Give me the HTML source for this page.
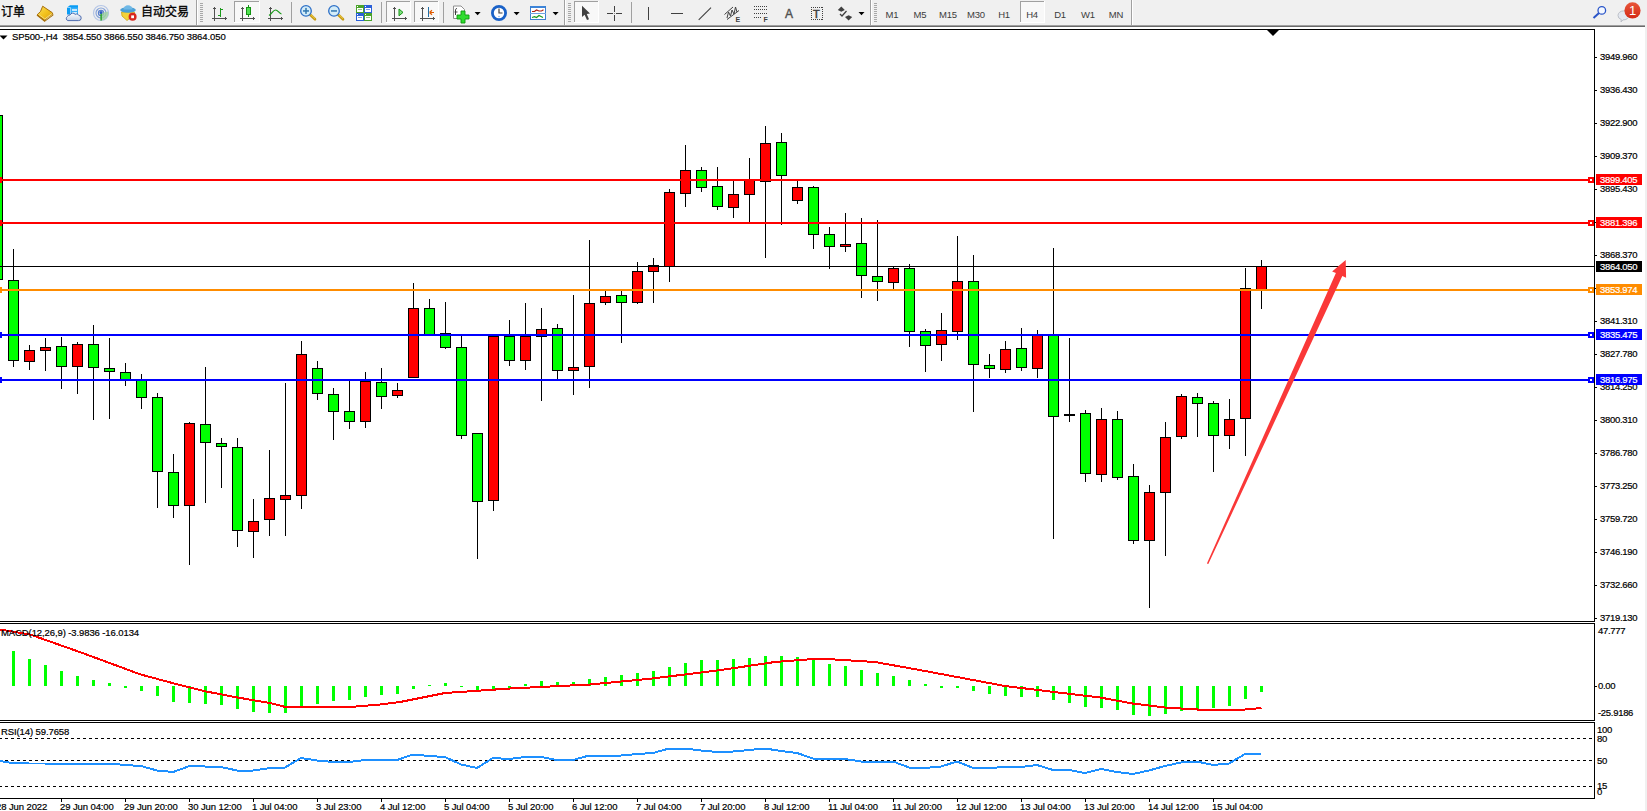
<!DOCTYPE html>
<html lang="zh"><head><meta charset="utf-8"><title>SP500-,H4</title>
<style>
html,body{margin:0;padding:0;background:#fff;}
body{width:1647px;height:811px;position:relative;overflow:hidden;font-family:"Liberation Sans","Noto Sans CJK SC",sans-serif;}
#tb{position:absolute;left:0;top:0;width:1647px;height:27px;background:#f0f0f0;}
#tb .l1{position:absolute;left:0;top:25px;width:1645px;height:1px;background:#a0a0a0;}
#tb .l2{position:absolute;left:0;top:26px;width:1645px;height:1px;background:#696969;}
#rt{position:absolute;left:1645px;top:25px;width:2px;height:786px;background:#f0f0f0;}
svg{position:absolute;left:0;top:0;}
.t{position:absolute;font-size:9.5px;line-height:12px;color:#000;white-space:nowrap;letter-spacing:-0.1px;-webkit-text-stroke:0.2px #000;}
.pb{position:absolute;left:1596px;width:46px;height:11px;font-size:9.5px;line-height:11px;color:#fff;white-space:nowrap;letter-spacing:-0.3px;text-indent:4px;-webkit-text-stroke:0.2px #fff;}
.a{letter-spacing:-0.3px;}
.cn{position:absolute;top:4px;font-size:12px;line-height:16px;color:#000;white-space:nowrap;-webkit-text-stroke:0.3px #000;}
.tf{position:absolute;top:8px;width:28px;text-align:center;font-size:9.5px;line-height:13px;color:#3c3c3c;letter-spacing:-0.2px;}
.ic{position:absolute;font-weight:bold;color:#404040;}
</style></head><body>
<div id="tb"><div class="l1"></div><div class="l2"></div></div>
<div id="rt"></div>
<svg width="1647" height="811" viewBox="0 0 1647 811" shape-rendering="crispEdges">
<defs><linearGradient id="gb" x1="0" y1="0" x2="1" y2="1"><stop offset="0" stop-color="#fbe060"/><stop offset="0.5" stop-color="#f2c21c"/><stop offset="1" stop-color="#d89a10"/></linearGradient><linearGradient id="cl" x1="0" y1="0" x2="0" y2="1"><stop offset="0" stop-color="#ffffff"/><stop offset="1" stop-color="#c4d0e6"/></linearGradient></defs>
<g shape-rendering="geometricPrecision"><polygon points="42.7,6.2 52.2,12.6 53,14.6 44.6,20.8 37.1,14.8 40.5,11.5" fill="url(#gb)" stroke="#a8700c" stroke-width="1" stroke-linejoin="round"/><polyline points="37.1,14.8 44.6,20.8 53,14.6" fill="none" stroke="#a8700c" stroke-width="1.7" stroke-linejoin="round"/><polyline points="38.3,14.2 44.8,19 51.8,13.6" fill="none" stroke="#f7dc78" stroke-width="1"/><polyline points="45.5,19.8 52.5,14.6" fill="none" stroke="#d8c890" stroke-width="0.8"/></g>
<g shape-rendering="geometricPrecision"><path d="M67 7.5 L70 5.3 L78 5.3 L78 14.5 L67 14.5Z" fill="#0a9cf5"/><path d="M70.5 7.5 L78 7.5 L78 14.5 L70.5 14.5Z" fill="#38b0f8"/><path d="M67 7.5 L70.5 7.5 L70.5 14.5" fill="none" stroke="#bfe4fc" stroke-width="0.7"/><rect x="72" y="9.2" width="5" height="1.6" fill="#e8f6ff"/><rect x="72" y="12" width="5" height="2.5" fill="#d0ecfd"/><path d="M67.8 20.6 h10.6 a2.6 2.6 0 0 0 0.4 -5.2 a2.4 2.4 0 0 0 -3.6 -1 a3 3 0 0 0 -5.2 0.6 a2.4 2.4 0 0 0 -2.6 1.6 a2.2 2.2 0 0 0 0.4 4z" fill="url(#cl)" stroke="#4060a8" stroke-width="0.9"/></g>
<g shape-rendering="geometricPrecision" fill="none"><circle cx="101" cy="13" r="7.5" stroke="#b5c6e6" stroke-width="1.2"/><circle cx="101" cy="13" r="5" stroke="#86a3d8" stroke-width="1.2"/><circle cx="101" cy="13" r="2.6" stroke="#5a80cc" stroke-width="1.2"/><path d="M101 13 L101 20.5 A7.5 7.5 0 0 0 108.3 11.5 Z" fill="#9fd29f" stroke="none" opacity="0.8"/><rect x="100.4" y="13" width="1.4" height="7.5" fill="#1fa01f"/><circle cx="101" cy="12.5" r="1.5" fill="#2a58c0" stroke="none"/></g>
<g shape-rendering="geometricPrecision"><path d="M121.5 12 L134.5 12 L134 15 L127 20.5 L122 16 Z" fill="#f4d23a" stroke="#c9a21a" stroke-width="0.8"/><ellipse cx="128" cy="10" rx="7.8" ry="2.8" fill="#4a9fd6"/><path d="M123.5 9.5 a4.5 4.2 0 0 1 9 0z" fill="#6fb8e6"/><circle cx="132.6" cy="16.8" r="4" fill="#d8281e"/><rect x="131.2" y="15.4" width="2.8" height="2.8" fill="#fff"/></g>
<rect x="196" y="0" width="1" height="25" fill="#a0a0a0"/><rect x="197" y="0" width="1" height="25" fill="#ffffff"/>
<rect x="200" y="3" width="3" height="1" fill="#a8a8a8"/>
<rect x="200" y="5" width="3" height="1" fill="#a8a8a8"/>
<rect x="200" y="7" width="3" height="1" fill="#a8a8a8"/>
<rect x="200" y="9" width="3" height="1" fill="#a8a8a8"/>
<rect x="200" y="11" width="3" height="1" fill="#a8a8a8"/>
<rect x="200" y="13" width="3" height="1" fill="#a8a8a8"/>
<rect x="200" y="15" width="3" height="1" fill="#a8a8a8"/>
<rect x="200" y="17" width="3" height="1" fill="#a8a8a8"/>
<rect x="200" y="19" width="3" height="1" fill="#a8a8a8"/>
<rect x="200" y="21" width="3" height="1" fill="#a8a8a8"/>
<g fill="#505050"><rect x="214" y="7" width="1" height="14"/><rect x="212" y="18" width="15" height="1"/><rect x="213" y="8" width="3" height="1"/><rect x="225" y="17" width="1" height="3"/></g>
<g fill="#1a9a1a"><rect x="220" y="8" width="1" height="9"/><rect x="221" y="9" width="2" height="1"/><rect x="218" y="15" width="2" height="1"/></g>
<rect x="234" y="1" width="26" height="22" fill="#f8f8f8"/><rect x="234" y="1" width="26" height="1" fill="#a0a0a0"/><rect x="234" y="1" width="1" height="22" fill="#a0a0a0"/><rect x="234" y="22" width="26" height="1" fill="#ffffff"/><rect x="259" y="1" width="1" height="22" fill="#ffffff"/>
<g fill="#505050"><rect x="242" y="7" width="1" height="14"/><rect x="240" y="18" width="15" height="1"/><rect x="241" y="8" width="3" height="1"/><rect x="253" y="17" width="1" height="3"/></g>
<rect x="248" y="5" width="1" height="12" fill="#149414"/><rect x="246.5" y="7.5" width="4" height="7" fill="#4fe04f" stroke="#149414" stroke-width="1" shape-rendering="geometricPrecision"/>
<g fill="#505050"><rect x="270" y="7" width="1" height="14"/><rect x="268" y="18" width="15" height="1"/><rect x="269" y="8" width="3" height="1"/><rect x="281" y="17" width="1" height="3"/></g>
<path d="M269 15.5 C272 14 273 10 275.5 10 C278 10 279 13.5 281.5 14" fill="none" stroke="#1a9a1a" stroke-width="1.2" shape-rendering="geometricPrecision"/>
<rect x="291" y="2" width="1" height="21" fill="#a0a0a0"/>
<g shape-rendering="geometricPrecision"><line x1="310" y1="14.5" x2="315" y2="19.3" stroke="#c79a12" stroke-width="2.6" stroke-linecap="round"/><line x1="310.5" y1="14.3" x2="315" y2="18.6" stroke="#f0d050" stroke-width="1"/><circle cx="306" cy="10.9" r="5.3" fill="#d3ecf8" stroke="#2c6fc7" stroke-width="1.3"/><rect x="303" y="10.2" width="6" height="1.5" fill="#2f76b0"/><rect x="305.25" y="7.9" width="1.5" height="6" fill="#2f76b0"/></g>
<g shape-rendering="geometricPrecision"><line x1="338" y1="14.5" x2="343" y2="19.3" stroke="#c79a12" stroke-width="2.6" stroke-linecap="round"/><line x1="338.5" y1="14.3" x2="343" y2="18.6" stroke="#f0d050" stroke-width="1"/><circle cx="334" cy="10.9" r="5.3" fill="#d3ecf8" stroke="#2c6fc7" stroke-width="1.3"/><rect x="331" y="10.2" width="6" height="1.5" fill="#2f76b0"/></g>
<rect x="356" y="5" width="8" height="8" fill="#4aa32a"/><rect x="357" y="8" width="6" height="4" fill="#fff"/><rect x="358" y="9" width="4" height="1" fill="#4aa32a" opacity="0.6"/><rect x="357" y="6" width="1" height="1" fill="#fff"/>
<rect x="364" y="5" width="8" height="8" fill="#2a5fd8"/><rect x="365" y="8" width="6" height="4" fill="#fff"/><rect x="366" y="9" width="4" height="1" fill="#2a5fd8" opacity="0.6"/><rect x="365" y="6" width="1" height="1" fill="#fff"/>
<rect x="356" y="13" width="8" height="8" fill="#2a5fd8"/><rect x="357" y="16" width="6" height="4" fill="#fff"/><rect x="358" y="17" width="4" height="1" fill="#2a5fd8" opacity="0.6"/><rect x="357" y="14" width="1" height="1" fill="#fff"/>
<rect x="364" y="13" width="8" height="8" fill="#4aa32a"/><rect x="365" y="16" width="6" height="4" fill="#fff"/><rect x="366" y="17" width="4" height="1" fill="#4aa32a" opacity="0.6"/><rect x="365" y="14" width="1" height="1" fill="#fff"/>
<rect x="381" y="2" width="1" height="21" fill="#a0a0a0"/>
<rect x="386" y="1" width="25" height="22" fill="#f8f8f8"/><rect x="386" y="1" width="25" height="1" fill="#a0a0a0"/><rect x="386" y="1" width="1" height="22" fill="#a0a0a0"/><rect x="386" y="22" width="25" height="1" fill="#ffffff"/><rect x="410" y="1" width="1" height="22" fill="#ffffff"/>
<g fill="#505050"><rect x="394" y="7" width="1" height="14"/><rect x="392" y="18" width="15" height="1"/><rect x="393" y="8" width="3" height="1"/><rect x="405" y="17" width="1" height="3"/></g>
<polygon points="399,9 403,12.4 399,15.8" fill="#7fe07f" stroke="#149414" stroke-width="1" shape-rendering="geometricPrecision"/>
<rect x="414" y="1" width="25" height="22" fill="#f8f8f8"/><rect x="414" y="1" width="25" height="1" fill="#a0a0a0"/><rect x="414" y="1" width="1" height="22" fill="#a0a0a0"/><rect x="414" y="22" width="25" height="1" fill="#ffffff"/><rect x="438" y="1" width="1" height="22" fill="#ffffff"/>
<g fill="#505050"><rect x="422" y="7" width="1" height="14"/><rect x="420" y="18" width="15" height="1"/><rect x="421" y="8" width="3" height="1"/><rect x="433" y="17" width="1" height="3"/></g>
<rect x="428" y="7" width="1" height="10" fill="#1f6fa8"/><path d="M429.5 12.5 L434 12.5 M429.5 12.5 l2.5 -2.3 M429.5 12.5 l2.5 2.3" stroke="#e05a00" stroke-width="1.2" fill="none" shape-rendering="geometricPrecision"/>
<rect x="443" y="2" width="1" height="21" fill="#a0a0a0"/>
<g shape-rendering="geometricPrecision"><path d="M453.5 6 h7.5 l3.5 3.5 v9 h-11z" fill="#fff" stroke="#909090" stroke-width="1"/><path d="M457 8.5 c-1.5 0 -1.5 1 -1.5 2.5 v4" stroke="#404040" stroke-width="1" fill="none"/><rect x="454.5" y="11.5" width="3" height="1" fill="#404040"/><path d="M461 11 h4 v4 h4 v4 h-4 v4 h-4 v-4 h-4 v-4 h4z" fill="#2edc2e" stroke="#0f960f" stroke-width="0.9"/></g>
<polygon points="474.6,12 480.6,12 477.6,15.2" fill="#000" shape-rendering="geometricPrecision"/>
<g shape-rendering="geometricPrecision"><circle cx="499" cy="13" r="6.6" fill="#fff" stroke="#1a62c8" stroke-width="2.8"/><path d="M499 8.5 V13 H502.5" stroke="#404040" stroke-width="1.2" fill="none"/><circle cx="499" cy="16.5" r="0.7" fill="#6aa0e8"/></g>
<polygon points="513.6,12 519.6,12 516.6,15.2" fill="#000" shape-rendering="geometricPrecision"/>
<rect x="530" y="6" width="16" height="14" fill="#fff" stroke="none"/><rect x="530" y="6" width="16" height="2" fill="#3d84d8"/><rect x="530" y="6" width="1" height="14" fill="#3d7fd0"/><rect x="545" y="6" width="1" height="14" fill="#3d7fd0"/><rect x="530" y="19" width="16" height="1" fill="#3d7fd0"/><rect x="530" y="13" width="16" height="1" fill="#6fa4e0"/>
<path d="M532 11.5 l2.5 0 l2 -1.5 l2.5 1 l2.5 0 l2 -1.2" stroke="#b02010" stroke-width="1.2" fill="none" shape-rendering="geometricPrecision"/><path d="M532 17.5 l2.5 -0.8 l2 0.8 l2.5 -2 l2 1 l2 1" stroke="#1a9a1a" stroke-width="1.2" fill="none" shape-rendering="geometricPrecision"/>
<polygon points="552.6,12 558.6,12 555.6,15.2" fill="#000" shape-rendering="geometricPrecision"/>
<rect x="564" y="0" width="1" height="25" fill="#a0a0a0"/><rect x="565" y="0" width="1" height="25" fill="#ffffff"/>
<rect x="568" y="3" width="3" height="1" fill="#a8a8a8"/>
<rect x="568" y="5" width="3" height="1" fill="#a8a8a8"/>
<rect x="568" y="7" width="3" height="1" fill="#a8a8a8"/>
<rect x="568" y="9" width="3" height="1" fill="#a8a8a8"/>
<rect x="568" y="11" width="3" height="1" fill="#a8a8a8"/>
<rect x="568" y="13" width="3" height="1" fill="#a8a8a8"/>
<rect x="568" y="15" width="3" height="1" fill="#a8a8a8"/>
<rect x="568" y="17" width="3" height="1" fill="#a8a8a8"/>
<rect x="568" y="19" width="3" height="1" fill="#a8a8a8"/>
<rect x="568" y="21" width="3" height="1" fill="#a8a8a8"/>
<rect x="574" y="1" width="25" height="22" fill="#f8f8f8"/><rect x="574" y="1" width="25" height="1" fill="#a0a0a0"/><rect x="574" y="1" width="1" height="22" fill="#a0a0a0"/><rect x="574" y="22" width="25" height="1" fill="#ffffff"/><rect x="598" y="1" width="1" height="22" fill="#ffffff"/>
<polygon points="582,5.8 582,17 584.6,14.8 587,20 589,19.2 586.8,14 590,13.6" fill="#404040" shape-rendering="geometricPrecision"/>
<g fill="#404040"><rect x="607" y="13" width="6" height="1"/><rect x="616" y="13" width="6" height="1"/><rect x="614" y="6" width="1" height="6"/><rect x="614" y="15" width="1" height="6"/><rect x="614" y="13" width="1" height="1" fill="#909090"/></g>
<rect x="631" y="2" width="1" height="21" fill="#a0a0a0"/>
<rect x="648" y="7" width="1" height="13" fill="#404040"/>
<rect x="671" y="13" width="12" height="1" fill="#404040"/>
<line x1="698.7" y1="19.8" x2="711" y2="7.6" stroke="#404040" stroke-width="1.1" shape-rendering="geometricPrecision"/>
<g shape-rendering="geometricPrecision" stroke="#404040" stroke-width="1" fill="none"><line x1="724.5" y1="14.5" x2="733" y2="7"/><line x1="727" y1="19.5" x2="739" y2="10.5"/><path d="M727 18 l1.5 -6 l2 4 l1.5 -6 l2 4 l1.5 -7 l1.5 5"/></g>
<rect x="754" y="6" width="1" height="1" fill="#404040"/>
<rect x="756" y="6" width="1" height="1" fill="#404040"/>
<rect x="758" y="6" width="1" height="1" fill="#404040"/>
<rect x="760" y="6" width="1" height="1" fill="#404040"/>
<rect x="762" y="6" width="1" height="1" fill="#404040"/>
<rect x="764" y="6" width="1" height="1" fill="#404040"/>
<rect x="766" y="6" width="1" height="1" fill="#404040"/>
<rect x="754" y="9" width="1" height="1" fill="#404040"/>
<rect x="756" y="9" width="1" height="1" fill="#404040"/>
<rect x="758" y="9" width="1" height="1" fill="#404040"/>
<rect x="760" y="9" width="1" height="1" fill="#404040"/>
<rect x="762" y="9" width="1" height="1" fill="#404040"/>
<rect x="764" y="9" width="1" height="1" fill="#404040"/>
<rect x="766" y="9" width="1" height="1" fill="#404040"/>
<rect x="754" y="13" width="1" height="1" fill="#404040"/>
<rect x="756" y="13" width="1" height="1" fill="#404040"/>
<rect x="758" y="13" width="1" height="1" fill="#404040"/>
<rect x="760" y="13" width="1" height="1" fill="#404040"/>
<rect x="762" y="13" width="1" height="1" fill="#404040"/>
<rect x="764" y="13" width="1" height="1" fill="#404040"/>
<rect x="766" y="13" width="1" height="1" fill="#404040"/>
<rect x="754" y="17" width="1" height="1" fill="#404040"/>
<rect x="756" y="17" width="1" height="1" fill="#404040"/>
<rect x="758" y="17" width="1" height="1" fill="#404040"/>
<rect x="760" y="17" width="1" height="1" fill="#404040"/>
<rect x="811" y="7" width="1" height="1" fill="#404040"/><rect x="811" y="19" width="1" height="1" fill="#404040"/>
<rect x="813" y="7" width="1" height="1" fill="#404040"/><rect x="813" y="19" width="1" height="1" fill="#404040"/>
<rect x="815" y="7" width="1" height="1" fill="#404040"/><rect x="815" y="19" width="1" height="1" fill="#404040"/>
<rect x="817" y="7" width="1" height="1" fill="#404040"/><rect x="817" y="19" width="1" height="1" fill="#404040"/>
<rect x="819" y="7" width="1" height="1" fill="#404040"/><rect x="819" y="19" width="1" height="1" fill="#404040"/>
<rect x="821" y="7" width="1" height="1" fill="#404040"/><rect x="821" y="19" width="1" height="1" fill="#404040"/>
<rect x="811" y="7" width="1" height="1" fill="#404040"/><rect x="822" y="7" width="1" height="1" fill="#404040"/>
<rect x="811" y="9" width="1" height="1" fill="#404040"/><rect x="822" y="9" width="1" height="1" fill="#404040"/>
<rect x="811" y="11" width="1" height="1" fill="#404040"/><rect x="822" y="11" width="1" height="1" fill="#404040"/>
<rect x="811" y="13" width="1" height="1" fill="#404040"/><rect x="822" y="13" width="1" height="1" fill="#404040"/>
<rect x="811" y="15" width="1" height="1" fill="#404040"/><rect x="822" y="15" width="1" height="1" fill="#404040"/>
<rect x="811" y="17" width="1" height="1" fill="#404040"/><rect x="822" y="17" width="1" height="1" fill="#404040"/>
<rect x="811" y="19" width="1" height="1" fill="#404040"/><rect x="822" y="19" width="1" height="1" fill="#404040"/>
<g shape-rendering="geometricPrecision" fill="#404040"><polygon points="841.3,6.5 844.8,10 841.3,11.8 837.8,10"/><polygon points="848.6,20.5 852.2,17 848.6,15.2 845,17"/><path d="M840 14 l2 2 l4.5 -5" stroke="#404040" stroke-width="1.3" fill="none"/></g>
<polygon points="858.5,12 864.5,12 861.5,15.2" fill="#000" shape-rendering="geometricPrecision"/>
<rect x="870" y="0" width="1" height="25" fill="#a0a0a0"/><rect x="871" y="0" width="1" height="25" fill="#ffffff"/>
<rect x="874" y="3" width="3" height="1" fill="#a8a8a8"/>
<rect x="874" y="5" width="3" height="1" fill="#a8a8a8"/>
<rect x="874" y="7" width="3" height="1" fill="#a8a8a8"/>
<rect x="874" y="9" width="3" height="1" fill="#a8a8a8"/>
<rect x="874" y="11" width="3" height="1" fill="#a8a8a8"/>
<rect x="874" y="13" width="3" height="1" fill="#a8a8a8"/>
<rect x="874" y="15" width="3" height="1" fill="#a8a8a8"/>
<rect x="874" y="17" width="3" height="1" fill="#a8a8a8"/>
<rect x="874" y="19" width="3" height="1" fill="#a8a8a8"/>
<rect x="874" y="21" width="3" height="1" fill="#a8a8a8"/>
<rect x="1020" y="1" width="25" height="22" fill="#f8f8f8"/><rect x="1020" y="1" width="25" height="1" fill="#a0a0a0"/><rect x="1020" y="1" width="1" height="22" fill="#a0a0a0"/><rect x="1020" y="22" width="25" height="1" fill="#ffffff"/><rect x="1044" y="1" width="1" height="22" fill="#ffffff"/>
<rect x="1131" y="0" width="1" height="25" fill="#a0a0a0"/><rect x="1132" y="0" width="1" height="25" fill="#ffffff"/>
<g shape-rendering="geometricPrecision"><line x1="1599" y1="13" x2="1593.5" y2="18" stroke="#2a55c8" stroke-width="2"/><circle cx="1601.8" cy="10.4" r="3.8" fill="#f4f8ff" stroke="#2a55c8" stroke-width="1.3"/></g>
<g shape-rendering="geometricPrecision"><path d="M1618 15.5 a5.5 4.5 0 1 1 5 4.4 l-2 2 l0.3 -2.3 a5.5 4.5 0 0 1 -3.3 -4.1z" fill="#e4e8f0" stroke="#b0b4bc" stroke-width="0.8"/><defs><linearGradient id="bd" x1="0" y1="0" x2="0" y2="1"><stop offset="0" stop-color="#e8563a"/><stop offset="1" stop-color="#d42a16"/></linearGradient></defs><circle cx="1632.5" cy="10.4" r="8.1" fill="url(#bd)"/></g>
<g><rect x="-8" y="115" width="11" height="165" fill="#000"/><rect x="-7" y="116" width="9" height="163" fill="#00ff00"/><rect x="13" y="249" width="1" height="118" fill="#000"/><rect x="8" y="280" width="11" height="81" fill="#000"/><rect x="9" y="281" width="9" height="79" fill="#00ff00"/><rect x="29" y="345" width="1" height="25" fill="#000"/><rect x="24" y="350" width="11" height="12" fill="#000"/><rect x="25" y="351" width="9" height="10" fill="#ff0000"/><rect x="45" y="338" width="1" height="33" fill="#000"/><rect x="40" y="347" width="11" height="4" fill="#000"/><rect x="41" y="348" width="9" height="2" fill="#ff0000"/><rect x="61" y="337" width="1" height="52" fill="#000"/><rect x="56" y="346" width="11" height="21" fill="#000"/><rect x="57" y="347" width="9" height="19" fill="#00ff00"/><rect x="77" y="342" width="1" height="52" fill="#000"/><rect x="72" y="344" width="11" height="23" fill="#000"/><rect x="73" y="345" width="9" height="21" fill="#ff0000"/><rect x="93" y="325" width="1" height="95" fill="#000"/><rect x="88" y="344" width="11" height="24" fill="#000"/><rect x="89" y="345" width="9" height="22" fill="#00ff00"/><rect x="109" y="338" width="1" height="81" fill="#000"/><rect x="104" y="368" width="11" height="4" fill="#000"/><rect x="105" y="369" width="9" height="2" fill="#00ff00"/><rect x="125" y="363" width="1" height="23" fill="#000"/><rect x="120" y="372" width="11" height="9" fill="#000"/><rect x="121" y="373" width="9" height="7" fill="#00ff00"/><rect x="141" y="374" width="1" height="35" fill="#000"/><rect x="136" y="380" width="11" height="18" fill="#000"/><rect x="137" y="381" width="9" height="16" fill="#00ff00"/><rect x="157" y="393" width="1" height="115" fill="#000"/><rect x="152" y="397" width="11" height="75" fill="#000"/><rect x="153" y="398" width="9" height="73" fill="#00ff00"/><rect x="173" y="454" width="1" height="64" fill="#000"/><rect x="168" y="472" width="11" height="34" fill="#000"/><rect x="169" y="473" width="9" height="32" fill="#00ff00"/><rect x="189" y="422" width="1" height="143" fill="#000"/><rect x="184" y="423" width="11" height="83" fill="#000"/><rect x="185" y="424" width="9" height="81" fill="#ff0000"/><rect x="205" y="367" width="1" height="136" fill="#000"/><rect x="200" y="424" width="11" height="19" fill="#000"/><rect x="201" y="425" width="9" height="17" fill="#00ff00"/><rect x="221" y="438" width="1" height="50" fill="#000"/><rect x="216" y="443" width="11" height="4" fill="#000"/><rect x="217" y="444" width="9" height="2" fill="#00ff00"/><rect x="237" y="438" width="1" height="109" fill="#000"/><rect x="232" y="447" width="11" height="84" fill="#000"/><rect x="233" y="448" width="9" height="82" fill="#00ff00"/><rect x="253" y="499" width="1" height="59" fill="#000"/><rect x="248" y="521" width="11" height="11" fill="#000"/><rect x="249" y="522" width="9" height="9" fill="#ff0000"/><rect x="269" y="450" width="1" height="86" fill="#000"/><rect x="264" y="498" width="11" height="22" fill="#000"/><rect x="265" y="499" width="9" height="20" fill="#ff0000"/><rect x="285" y="383" width="1" height="153" fill="#000"/><rect x="280" y="495" width="11" height="5" fill="#000"/><rect x="281" y="496" width="9" height="3" fill="#ff0000"/><rect x="301" y="341" width="1" height="168" fill="#000"/><rect x="296" y="354" width="11" height="142" fill="#000"/><rect x="297" y="355" width="9" height="140" fill="#ff0000"/><rect x="317" y="361" width="1" height="39" fill="#000"/><rect x="312" y="368" width="11" height="26" fill="#000"/><rect x="313" y="369" width="9" height="24" fill="#00ff00"/><rect x="333" y="388" width="1" height="52" fill="#000"/><rect x="328" y="394" width="11" height="18" fill="#000"/><rect x="329" y="395" width="9" height="16" fill="#00ff00"/><rect x="349" y="380" width="1" height="49" fill="#000"/><rect x="344" y="411" width="11" height="11" fill="#000"/><rect x="345" y="412" width="9" height="9" fill="#00ff00"/><rect x="365" y="372" width="1" height="56" fill="#000"/><rect x="360" y="381" width="11" height="41" fill="#000"/><rect x="361" y="382" width="9" height="39" fill="#ff0000"/><rect x="381" y="368" width="1" height="41" fill="#000"/><rect x="376" y="382" width="11" height="15" fill="#000"/><rect x="377" y="383" width="9" height="13" fill="#00ff00"/><rect x="397" y="383" width="1" height="15" fill="#000"/><rect x="392" y="390" width="11" height="6" fill="#000"/><rect x="393" y="391" width="9" height="4" fill="#ff0000"/><rect x="413" y="283" width="1" height="95" fill="#000"/><rect x="408" y="308" width="11" height="70" fill="#000"/><rect x="409" y="309" width="9" height="68" fill="#ff0000"/><rect x="429" y="299" width="1" height="37" fill="#000"/><rect x="424" y="308" width="11" height="28" fill="#000"/><rect x="425" y="309" width="9" height="26" fill="#00ff00"/><rect x="445" y="302" width="1" height="47" fill="#000"/><rect x="440" y="333" width="11" height="15" fill="#000"/><rect x="441" y="334" width="9" height="13" fill="#00ff00"/><rect x="461" y="336" width="1" height="103" fill="#000"/><rect x="456" y="347" width="11" height="89" fill="#000"/><rect x="457" y="348" width="9" height="87" fill="#00ff00"/><rect x="477" y="433" width="1" height="126" fill="#000"/><rect x="472" y="433" width="11" height="69" fill="#000"/><rect x="473" y="434" width="9" height="67" fill="#00ff00"/><rect x="493" y="336" width="1" height="175" fill="#000"/><rect x="488" y="336" width="11" height="165" fill="#000"/><rect x="489" y="337" width="9" height="163" fill="#ff0000"/><rect x="509" y="320" width="1" height="46" fill="#000"/><rect x="504" y="336" width="11" height="25" fill="#000"/><rect x="505" y="337" width="9" height="23" fill="#00ff00"/><rect x="525" y="303" width="1" height="67" fill="#000"/><rect x="520" y="336" width="11" height="25" fill="#000"/><rect x="521" y="337" width="9" height="23" fill="#ff0000"/><rect x="541" y="308" width="1" height="93" fill="#000"/><rect x="536" y="329" width="11" height="8" fill="#000"/><rect x="537" y="330" width="9" height="6" fill="#ff0000"/><rect x="557" y="324" width="1" height="55" fill="#000"/><rect x="552" y="328" width="11" height="43" fill="#000"/><rect x="553" y="329" width="9" height="41" fill="#00ff00"/><rect x="573" y="295" width="1" height="100" fill="#000"/><rect x="568" y="367" width="11" height="4" fill="#000"/><rect x="569" y="368" width="9" height="2" fill="#ff0000"/><rect x="589" y="240" width="1" height="148" fill="#000"/><rect x="584" y="303" width="11" height="64" fill="#000"/><rect x="585" y="304" width="9" height="62" fill="#ff0000"/><rect x="605" y="291" width="1" height="14" fill="#000"/><rect x="600" y="296" width="11" height="7" fill="#000"/><rect x="601" y="297" width="9" height="5" fill="#ff0000"/><rect x="621" y="291" width="1" height="52" fill="#000"/><rect x="616" y="295" width="11" height="8" fill="#000"/><rect x="617" y="296" width="9" height="6" fill="#00ff00"/><rect x="637" y="262" width="1" height="42" fill="#000"/><rect x="632" y="271" width="11" height="32" fill="#000"/><rect x="633" y="272" width="9" height="30" fill="#ff0000"/><rect x="653" y="258" width="1" height="45" fill="#000"/><rect x="648" y="265" width="11" height="7" fill="#000"/><rect x="649" y="266" width="9" height="5" fill="#ff0000"/><rect x="669" y="189" width="1" height="93" fill="#000"/><rect x="664" y="192" width="11" height="75" fill="#000"/><rect x="665" y="193" width="9" height="73" fill="#ff0000"/><rect x="685" y="145" width="1" height="62" fill="#000"/><rect x="680" y="170" width="11" height="24" fill="#000"/><rect x="681" y="171" width="9" height="22" fill="#ff0000"/><rect x="701" y="167" width="1" height="25" fill="#000"/><rect x="696" y="170" width="11" height="18" fill="#000"/><rect x="697" y="171" width="9" height="16" fill="#00ff00"/><rect x="717" y="167" width="1" height="43" fill="#000"/><rect x="712" y="186" width="11" height="21" fill="#000"/><rect x="713" y="187" width="9" height="19" fill="#00ff00"/><rect x="733" y="181" width="1" height="37" fill="#000"/><rect x="728" y="194" width="11" height="14" fill="#000"/><rect x="729" y="195" width="9" height="12" fill="#ff0000"/><rect x="749" y="158" width="1" height="64" fill="#000"/><rect x="744" y="180" width="11" height="15" fill="#000"/><rect x="745" y="181" width="9" height="13" fill="#ff0000"/><rect x="765" y="126" width="1" height="132" fill="#000"/><rect x="760" y="143" width="11" height="39" fill="#000"/><rect x="761" y="144" width="9" height="37" fill="#ff0000"/><rect x="781" y="133" width="1" height="92" fill="#000"/><rect x="776" y="142" width="11" height="34" fill="#000"/><rect x="777" y="143" width="9" height="32" fill="#00ff00"/><rect x="797" y="181" width="1" height="23" fill="#000"/><rect x="792" y="187" width="11" height="14" fill="#000"/><rect x="793" y="188" width="9" height="12" fill="#ff0000"/><rect x="813" y="186" width="1" height="63" fill="#000"/><rect x="808" y="187" width="11" height="48" fill="#000"/><rect x="809" y="188" width="9" height="46" fill="#00ff00"/><rect x="829" y="227" width="1" height="42" fill="#000"/><rect x="824" y="234" width="11" height="13" fill="#000"/><rect x="825" y="235" width="9" height="11" fill="#00ff00"/><rect x="845" y="213" width="1" height="39" fill="#000"/><rect x="840" y="244" width="11" height="3" fill="#000"/><rect x="841" y="245" width="9" height="1" fill="#ff0000"/><rect x="861" y="218" width="1" height="80" fill="#000"/><rect x="856" y="243" width="11" height="33" fill="#000"/><rect x="857" y="244" width="9" height="31" fill="#00ff00"/><rect x="877" y="220" width="1" height="81" fill="#000"/><rect x="872" y="276" width="11" height="6" fill="#000"/><rect x="873" y="277" width="9" height="4" fill="#00ff00"/><rect x="893" y="267" width="1" height="22" fill="#000"/><rect x="888" y="268" width="11" height="15" fill="#000"/><rect x="889" y="269" width="9" height="13" fill="#ff0000"/><rect x="909" y="264" width="1" height="83" fill="#000"/><rect x="904" y="268" width="11" height="64" fill="#000"/><rect x="905" y="269" width="9" height="62" fill="#00ff00"/><rect x="925" y="329" width="1" height="43" fill="#000"/><rect x="920" y="331" width="11" height="15" fill="#000"/><rect x="921" y="332" width="9" height="13" fill="#00ff00"/><rect x="941" y="313" width="1" height="48" fill="#000"/><rect x="936" y="330" width="11" height="15" fill="#000"/><rect x="937" y="331" width="9" height="13" fill="#ff0000"/><rect x="957" y="236" width="1" height="104" fill="#000"/><rect x="952" y="281" width="11" height="51" fill="#000"/><rect x="953" y="282" width="9" height="49" fill="#ff0000"/><rect x="973" y="255" width="1" height="157" fill="#000"/><rect x="968" y="281" width="11" height="84" fill="#000"/><rect x="969" y="282" width="9" height="82" fill="#00ff00"/><rect x="989" y="354" width="1" height="24" fill="#000"/><rect x="984" y="365" width="11" height="4" fill="#000"/><rect x="985" y="366" width="9" height="2" fill="#00ff00"/><rect x="1005" y="341" width="1" height="32" fill="#000"/><rect x="1000" y="349" width="11" height="21" fill="#000"/><rect x="1001" y="350" width="9" height="19" fill="#ff0000"/><rect x="1021" y="328" width="1" height="43" fill="#000"/><rect x="1016" y="348" width="11" height="20" fill="#000"/><rect x="1017" y="349" width="9" height="18" fill="#00ff00"/><rect x="1037" y="330" width="1" height="48" fill="#000"/><rect x="1032" y="335" width="11" height="34" fill="#000"/><rect x="1033" y="336" width="9" height="32" fill="#ff0000"/><rect x="1053" y="248" width="1" height="291" fill="#000"/><rect x="1048" y="335" width="11" height="82" fill="#000"/><rect x="1049" y="336" width="9" height="80" fill="#00ff00"/><rect x="1069" y="338" width="1" height="84" fill="#000"/><rect x="1064" y="414" width="11" height="2" fill="#000"/><rect x="1085" y="410" width="1" height="72" fill="#000"/><rect x="1080" y="413" width="11" height="61" fill="#000"/><rect x="1081" y="414" width="9" height="59" fill="#00ff00"/><rect x="1101" y="408" width="1" height="74" fill="#000"/><rect x="1096" y="419" width="11" height="56" fill="#000"/><rect x="1097" y="420" width="9" height="54" fill="#ff0000"/><rect x="1117" y="411" width="1" height="69" fill="#000"/><rect x="1112" y="419" width="11" height="59" fill="#000"/><rect x="1113" y="420" width="9" height="57" fill="#00ff00"/><rect x="1133" y="464" width="1" height="80" fill="#000"/><rect x="1128" y="476" width="11" height="65" fill="#000"/><rect x="1129" y="477" width="9" height="63" fill="#00ff00"/><rect x="1149" y="485" width="1" height="123" fill="#000"/><rect x="1144" y="492" width="11" height="49" fill="#000"/><rect x="1145" y="493" width="9" height="47" fill="#ff0000"/><rect x="1165" y="422" width="1" height="134" fill="#000"/><rect x="1160" y="437" width="11" height="56" fill="#000"/><rect x="1161" y="438" width="9" height="54" fill="#ff0000"/><rect x="1181" y="394" width="1" height="45" fill="#000"/><rect x="1176" y="396" width="11" height="41" fill="#000"/><rect x="1177" y="397" width="9" height="39" fill="#ff0000"/><rect x="1197" y="393" width="1" height="44" fill="#000"/><rect x="1192" y="397" width="11" height="7" fill="#000"/><rect x="1193" y="398" width="9" height="5" fill="#00ff00"/><rect x="1213" y="401" width="1" height="71" fill="#000"/><rect x="1208" y="403" width="11" height="33" fill="#000"/><rect x="1209" y="404" width="9" height="31" fill="#00ff00"/><rect x="1229" y="399" width="1" height="50" fill="#000"/><rect x="1224" y="419" width="11" height="17" fill="#000"/><rect x="1225" y="420" width="9" height="15" fill="#ff0000"/><rect x="1245" y="268" width="1" height="188" fill="#000"/><rect x="1240" y="288" width="11" height="131" fill="#000"/><rect x="1241" y="289" width="9" height="129" fill="#ff0000"/><rect x="1261" y="260" width="1" height="49" fill="#000"/><rect x="1256" y="266" width="11" height="24" fill="#000"/><rect x="1257" y="267" width="9" height="22" fill="#ff0000"/></g>
<rect x="0" y="179" width="1594" height="2" fill="#ff0000"/>
<rect x="0" y="222" width="1594" height="2" fill="#ff0000"/>
<rect x="0" y="266" width="1594" height="1" fill="#000"/>
<rect x="0" y="289" width="1594" height="2" fill="#ff8c00"/>
<rect x="0" y="334" width="1594" height="2" fill="#0000ff"/>
<rect x="0" y="379" width="1594" height="2" fill="#0000ff"/>
<rect x="1588" y="177" width="6" height="6" fill="#ff0000"/><rect x="1590" y="179" width="2" height="2" fill="#fff"/>
<rect x="0" y="177" width="2" height="6" fill="#ff0000"/>
<rect x="1588" y="220" width="6" height="6" fill="#ff0000"/><rect x="1590" y="222" width="2" height="2" fill="#fff"/>
<rect x="0" y="220" width="2" height="6" fill="#ff0000"/>
<rect x="1588" y="287" width="6" height="6" fill="#ff8c00"/><rect x="1590" y="289" width="2" height="2" fill="#fff"/>
<rect x="0" y="287" width="2" height="6" fill="#ff8c00"/>
<rect x="1588" y="332" width="6" height="6" fill="#0000ff"/><rect x="1590" y="334" width="2" height="2" fill="#fff"/>
<rect x="0" y="332" width="2" height="6" fill="#0000ff"/>
<rect x="1588" y="377" width="6" height="6" fill="#0000ff"/><rect x="1590" y="379" width="2" height="2" fill="#fff"/>
<rect x="0" y="377" width="2" height="6" fill="#0000ff"/>
<polygon points="1206.9,563.5 1335.9,273.1 1332.1,271.4 1345.7,260.0 1346.1,277.8 1342.3,276.0 1208.3,564.1" fill="#fa3838" shape-rendering="geometricPrecision"/>
<rect x="0" y="29" width="1595" height="1" fill="#000"/>
<rect x="1594" y="29" width="1" height="770" fill="#000"/>
<rect x="0" y="621" width="1595" height="1" fill="#000"/>
<rect x="0" y="623" width="1595" height="1" fill="#000"/>
<rect x="0" y="720" width="1595" height="1" fill="#000"/>
<rect x="0" y="722" width="1595" height="1" fill="#000"/>
<rect x="0" y="798" width="1595" height="1" fill="#000"/>
<rect x="1594" y="622" width="1" height="1" fill="#fff"/>
<rect x="1594" y="721" width="1" height="1" fill="#fff"/>
<polygon points="1267,30 1279,30 1273,36" fill="#000" shape-rendering="geometricPrecision"/>
<rect x="1595" y="57" width="2" height="1" fill="#000"/>
<rect x="1595" y="90" width="2" height="1" fill="#000"/>
<rect x="1595" y="123" width="2" height="1" fill="#000"/>
<rect x="1595" y="156" width="2" height="1" fill="#000"/>
<rect x="1595" y="189" width="2" height="1" fill="#000"/>
<rect x="1595" y="222" width="2" height="1" fill="#000"/>
<rect x="1595" y="255" width="2" height="1" fill="#000"/>
<rect x="1595" y="288" width="2" height="1" fill="#000"/>
<rect x="1595" y="321" width="2" height="1" fill="#000"/>
<rect x="1595" y="354" width="2" height="1" fill="#000"/>
<rect x="1595" y="387" width="2" height="1" fill="#000"/>
<rect x="1595" y="420" width="2" height="1" fill="#000"/>
<rect x="1595" y="453" width="2" height="1" fill="#000"/>
<rect x="1595" y="486" width="2" height="1" fill="#000"/>
<rect x="1595" y="519" width="2" height="1" fill="#000"/>
<rect x="1595" y="552" width="2" height="1" fill="#000"/>
<rect x="1595" y="585" width="2" height="1" fill="#000"/>
<rect x="1595" y="618" width="2" height="1" fill="#000"/>
<rect x="1595" y="686" width="2" height="1" fill="#000"/>
<g><rect x="12" y="651" width="3" height="35" fill="#00ff00"/><rect x="28" y="659" width="3" height="27" fill="#00ff00"/><rect x="44" y="665" width="3" height="21" fill="#00ff00"/><rect x="60" y="671" width="3" height="15" fill="#00ff00"/><rect x="76" y="676" width="3" height="10" fill="#00ff00"/><rect x="92" y="680" width="3" height="6" fill="#00ff00"/><rect x="108" y="683" width="3" height="3" fill="#00ff00"/><rect x="124" y="686" width="3" height="2" fill="#00ff00"/><rect x="140" y="686" width="3" height="5" fill="#00ff00"/><rect x="156" y="686" width="3" height="10" fill="#00ff00"/><rect x="172" y="686" width="3" height="16" fill="#00ff00"/><rect x="188" y="686" width="3" height="17" fill="#00ff00"/><rect x="204" y="686" width="3" height="18" fill="#00ff00"/><rect x="220" y="686" width="3" height="19" fill="#00ff00"/><rect x="236" y="686" width="3" height="23" fill="#00ff00"/><rect x="252" y="686" width="3" height="26" fill="#00ff00"/><rect x="268" y="686" width="3" height="27" fill="#00ff00"/><rect x="284" y="686" width="3" height="27" fill="#00ff00"/><rect x="300" y="686" width="3" height="20" fill="#00ff00"/><rect x="316" y="686" width="3" height="18" fill="#00ff00"/><rect x="332" y="686" width="3" height="15" fill="#00ff00"/><rect x="348" y="686" width="3" height="14" fill="#00ff00"/><rect x="364" y="686" width="3" height="11" fill="#00ff00"/><rect x="380" y="686" width="3" height="9" fill="#00ff00"/><rect x="396" y="686" width="3" height="8" fill="#00ff00"/><rect x="412" y="686" width="3" height="3" fill="#00ff00"/><rect x="428" y="685" width="3" height="1" fill="#00ff00"/><rect x="444" y="683" width="3" height="3" fill="#00ff00"/><rect x="460" y="686" width="3" height="1" fill="#00ff00"/><rect x="476" y="686" width="3" height="5" fill="#00ff00"/><rect x="492" y="686" width="3" height="3" fill="#00ff00"/><rect x="508" y="686" width="3" height="2" fill="#00ff00"/><rect x="524" y="684" width="3" height="2" fill="#00ff00"/><rect x="540" y="681" width="3" height="5" fill="#00ff00"/><rect x="556" y="682" width="3" height="4" fill="#00ff00"/><rect x="572" y="682" width="3" height="4" fill="#00ff00"/><rect x="588" y="679" width="3" height="7" fill="#00ff00"/><rect x="604" y="677" width="3" height="9" fill="#00ff00"/><rect x="620" y="675" width="3" height="11" fill="#00ff00"/><rect x="636" y="673" width="3" height="13" fill="#00ff00"/><rect x="652" y="671" width="3" height="15" fill="#00ff00"/><rect x="668" y="667" width="3" height="19" fill="#00ff00"/><rect x="684" y="663" width="3" height="23" fill="#00ff00"/><rect x="700" y="660" width="3" height="26" fill="#00ff00"/><rect x="716" y="660" width="3" height="26" fill="#00ff00"/><rect x="732" y="659" width="3" height="27" fill="#00ff00"/><rect x="748" y="658" width="3" height="28" fill="#00ff00"/><rect x="764" y="656" width="3" height="30" fill="#00ff00"/><rect x="780" y="656" width="3" height="30" fill="#00ff00"/><rect x="796" y="657" width="3" height="29" fill="#00ff00"/><rect x="812" y="660" width="3" height="26" fill="#00ff00"/><rect x="828" y="664" width="3" height="22" fill="#00ff00"/><rect x="844" y="666" width="3" height="20" fill="#00ff00"/><rect x="860" y="670" width="3" height="16" fill="#00ff00"/><rect x="876" y="673" width="3" height="13" fill="#00ff00"/><rect x="892" y="676" width="3" height="10" fill="#00ff00"/><rect x="908" y="680" width="3" height="6" fill="#00ff00"/><rect x="924" y="684" width="3" height="2" fill="#00ff00"/><rect x="940" y="686" width="3" height="2" fill="#00ff00"/><rect x="956" y="686" width="3" height="2" fill="#00ff00"/><rect x="972" y="686" width="3" height="5" fill="#00ff00"/><rect x="988" y="686" width="3" height="8" fill="#00ff00"/><rect x="1004" y="686" width="3" height="10" fill="#00ff00"/><rect x="1020" y="686" width="3" height="11" fill="#00ff00"/><rect x="1036" y="686" width="3" height="11" fill="#00ff00"/><rect x="1052" y="686" width="3" height="14" fill="#00ff00"/><rect x="1068" y="686" width="3" height="17" fill="#00ff00"/><rect x="1084" y="686" width="3" height="21" fill="#00ff00"/><rect x="1100" y="686" width="3" height="22" fill="#00ff00"/><rect x="1116" y="686" width="3" height="24" fill="#00ff00"/><rect x="1132" y="686" width="3" height="29" fill="#00ff00"/><rect x="1148" y="686" width="3" height="30" fill="#00ff00"/><rect x="1164" y="686" width="3" height="28" fill="#00ff00"/><rect x="1180" y="686" width="3" height="25" fill="#00ff00"/><rect x="1196" y="686" width="3" height="23" fill="#00ff00"/><rect x="1212" y="686" width="3" height="22" fill="#00ff00"/><rect x="1228" y="686" width="3" height="20" fill="#00ff00"/><rect x="1244" y="686" width="3" height="13" fill="#00ff00"/><rect x="1260" y="686" width="3" height="6" fill="#00ff00"/></g>
<polyline points="0,629.5 30,634.5 82.5,653 140,674.25 175,683.75 205,691.25 237.5,697.5 270,703 285.5,707 350,707 380,704.5 400,702 445,693 510,688.5 590,684.5 650,678.75 717.5,670.5 775,662 800,660 815,659 827,659 875,662 925,671 1005,686 1050,691.5 1100,697.5 1132.5,703.5 1165,707.5 1197.5,709.5 1245,709.5 1261.5,708" fill="none" stroke="#ff0000" stroke-width="2" shape-rendering="crispEdges"/>
<line x1="-1" y1="738.5" x2="1594" y2="738.5" stroke="#000" stroke-width="1" stroke-dasharray="3 3"/>
<line x1="-1" y1="760.5" x2="1594" y2="760.5" stroke="#000" stroke-width="1" stroke-dasharray="3 3"/>
<line x1="-1" y1="786.5" x2="1594" y2="786.5" stroke="#000" stroke-width="1" stroke-dasharray="3 3"/>
<polyline points="-3,760.5 13,763.25 29,763.5 45,763.5 61,763.5 77,763.5 93,763.5 109,763.5 125,765 141,766 157,770.5 173,772 189,766.25 205,766.5 221,767 237,770.5 253,770.5 269,768.25 285,767.5 301,758 317,760.5 333,762 349,762 365,760 381,760 397,760 413,754.5 429,756 445,757 461,764.5 477,768 493,758 509,759 525,757 541,757 557,760 573,760 589,755.5 605,755.5 621,755.5 637,754 653,753 669,748.5 685,748.5 701,750.5 717,752 733,751.5 749,750 765,748.5 781,751 797,753 813,758.5 829,759 845,759 861,761.5 877,761.5 893,761.5 909,767.5 925,768 941,766.5 957,761.5 973,768 989,768 1005,767 1021,767 1037,765 1053,770 1069,770 1085,773 1101,769 1117,772 1133,774 1149,770.5 1165,766 1181,762.5 1197,761.5 1213,765 1229,763.5 1245,754 1261,754" fill="none" stroke="#1e90ff" stroke-width="2" shape-rendering="crispEdges"/>
<rect x="61" y="799" width="1" height="3" fill="#000"/>
<rect x="125" y="799" width="1" height="3" fill="#000"/>
<rect x="189" y="799" width="1" height="3" fill="#000"/>
<rect x="253" y="799" width="1" height="3" fill="#000"/>
<rect x="317" y="799" width="1" height="3" fill="#000"/>
<rect x="381" y="799" width="1" height="3" fill="#000"/>
<rect x="445" y="799" width="1" height="3" fill="#000"/>
<rect x="509" y="799" width="1" height="3" fill="#000"/>
<rect x="573" y="799" width="1" height="3" fill="#000"/>
<rect x="637" y="799" width="1" height="3" fill="#000"/>
<rect x="701" y="799" width="1" height="3" fill="#000"/>
<rect x="765" y="799" width="1" height="3" fill="#000"/>
<rect x="829" y="799" width="1" height="3" fill="#000"/>
<rect x="893" y="799" width="1" height="3" fill="#000"/>
<rect x="957" y="799" width="1" height="3" fill="#000"/>
<rect x="1021" y="799" width="1" height="3" fill="#000"/>
<rect x="1085" y="799" width="1" height="3" fill="#000"/>
<rect x="1149" y="799" width="1" height="3" fill="#000"/>
<rect x="1213" y="799" width="1" height="3" fill="#000"/>
</svg>
<div class="cn" style="left:1px">订单</div>
<div class="cn" style="left:141px">自动交易</div>
<div class="tf" style="left:878px">M1</div><div class="tf" style="left:906px">M5</div><div class="tf" style="left:934px">M15</div><div class="tf" style="left:962px">M30</div><div class="tf" style="left:990px">H1</div><div class="tf" style="left:1018px">H4</div><div class="tf" style="left:1046px">D1</div><div class="tf" style="left:1074px">W1</div><div class="tf" style="left:1102px">MN</div>
<div class="ic" style="left:785px;top:7px;font-size:12px;line-height:14px;font-weight:normal;color:#505050;-webkit-text-stroke:0.4px #505050">A</div>
<div class="ic" style="left:813px;top:8px;font-size:11px;line-height:13px;font-weight:normal;-webkit-text-stroke:0.5px #404040">T</div>
<div class="ic" style="left:735.5px;top:16px;font-size:7px;line-height:8px">E</div>
<div class="ic" style="left:763.5px;top:16px;font-size:7px;line-height:8px">F</div>
<div class="ic" style="left:1629px;top:3px;font-size:13px;line-height:15px;color:#fff;font-weight:normal">1</div>
<svg width="12" height="8" style="left:-1px;top:34px" viewBox="0 0 12 8"><polygon points="0.5,1.5 8.5,1.5 4.5,5.5" fill="#000"/></svg>
<div class="t a" style="left:1600px;top:51px;">3949.960</div>
<div class="t a" style="left:1600px;top:84px;">3936.430</div>
<div class="t a" style="left:1600px;top:117px;">3922.900</div>
<div class="t a" style="left:1600px;top:150px;">3909.370</div>
<div class="t a" style="left:1600px;top:183px;">3895.430</div>
<div class="t a" style="left:1600px;top:249px;">3868.370</div>
<div class="t a" style="left:1600px;top:315px;">3841.310</div>
<div class="t a" style="left:1600px;top:348px;">3827.780</div>
<div class="t a" style="left:1600px;top:381px;">3814.250</div>
<div class="t a" style="left:1600px;top:414px;">3800.310</div>
<div class="t a" style="left:1600px;top:447px;">3786.780</div>
<div class="t a" style="left:1600px;top:480px;">3773.250</div>
<div class="t a" style="left:1600px;top:513px;">3759.720</div>
<div class="t a" style="left:1600px;top:546px;">3746.190</div>
<div class="t a" style="left:1600px;top:579px;">3732.660</div>
<div class="t a" style="left:1600px;top:612px;">3719.130</div>
<div class="t a" style="left:1598px;top:625px;">47.777</div>
<div class="t a" style="left:1598px;top:680px;">0.00</div>
<div class="t a" style="left:1598px;top:707px;">-25.9186</div>
<div class="t a" style="left:1597px;top:724px;">100</div>
<div class="t a" style="left:1597px;top:733px;">80</div>
<div class="t a" style="left:1597px;top:755px;">50</div>
<div class="t a" style="left:1597px;top:780px;">15</div>
<div class="t a" style="left:1597px;top:786px;">0</div>
<div class="pb" style="top:174px;background:#ff0000">3899.405</div>
<div class="pb" style="top:217px;background:#ff0000">3881.396</div>
<div class="pb" style="top:261px;background:#000">3864.050</div>
<div class="pb" style="top:284px;background:#ff8c00">3853.974</div>
<div class="pb" style="top:329px;background:#0000ff">3835.475</div>
<div class="pb" style="top:374px;background:#0000ff">3816.975</div>
<div class="t" style="left:12px;top:31px;">SP500-,H4&nbsp; 3854.550 3866.550 3846.750 3864.050</div>
<div class="t" style="left:1px;top:627px;">MACD(12,26,9) -3.9836 -16.0134</div>
<div class="t" style="left:1px;top:726px;">RSI(14) 59.7658</div>
<div class="t" style="left:-4px;top:801px;">28 Jun 2022</div>
<div class="t" style="left:60px;top:801px;">29 Jun 04:00</div>
<div class="t" style="left:124px;top:801px;">29 Jun 20:00</div>
<div class="t" style="left:188px;top:801px;">30 Jun 12:00</div>
<div class="t" style="left:252px;top:801px;">1 Jul 04:00</div>
<div class="t" style="left:316px;top:801px;">3 Jul 23:00</div>
<div class="t" style="left:380px;top:801px;">4 Jul 12:00</div>
<div class="t" style="left:444px;top:801px;">5 Jul 04:00</div>
<div class="t" style="left:508px;top:801px;">5 Jul 20:00</div>
<div class="t" style="left:572px;top:801px;">6 Jul 12:00</div>
<div class="t" style="left:636px;top:801px;">7 Jul 04:00</div>
<div class="t" style="left:700px;top:801px;">7 Jul 20:00</div>
<div class="t" style="left:764px;top:801px;">8 Jul 12:00</div>
<div class="t" style="left:828px;top:801px;">11 Jul 04:00</div>
<div class="t" style="left:892px;top:801px;">11 Jul 20:00</div>
<div class="t" style="left:956px;top:801px;">12 Jul 12:00</div>
<div class="t" style="left:1020px;top:801px;">13 Jul 04:00</div>
<div class="t" style="left:1084px;top:801px;">13 Jul 20:00</div>
<div class="t" style="left:1148px;top:801px;">14 Jul 12:00</div>
<div class="t" style="left:1212px;top:801px;">15 Jul 04:00</div>
</body></html>
